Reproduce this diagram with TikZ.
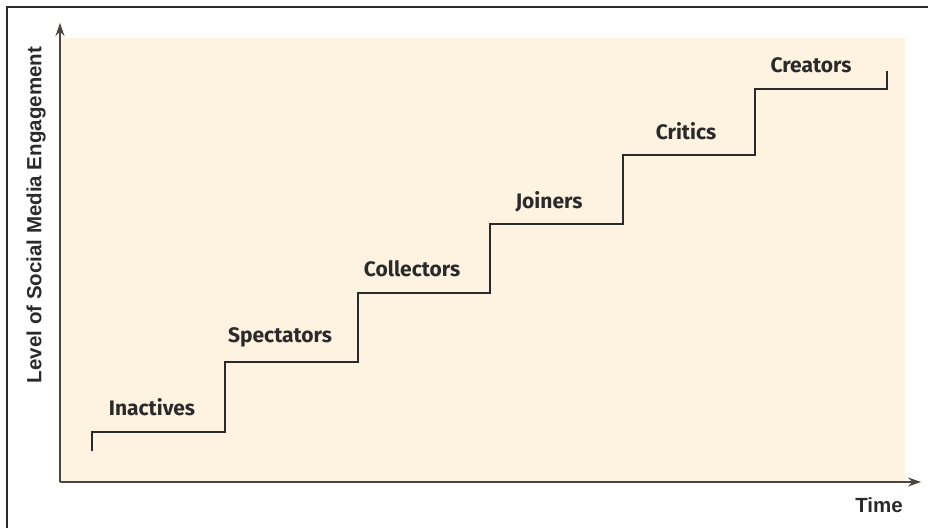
\documentclass[tikz,border=0pt]{standalone}
\usepackage{fontspec}
\setmainfont{Liberation Sans}
\newfontfamily\labfont{Fira Sans}
\usetikzlibrary{arrows.meta}
\definecolor{bgfill}{HTML}{FEF2E0}
\definecolor{axiscol}{HTML}{4A4540}
\definecolor{inkcol}{HTML}{2A2A2A}
\begin{document}
\begin{tikzpicture}[x=1pt,y=-1pt,
  frame/.style={draw=inkcol,line width=1.4pt},
  axis/.style={draw=axiscol,line width=1.3pt,-{Stealth[length=13pt,width=9pt]}},
  stair/.style={draw=inkcol,line width=2pt,line cap=butt,line join=miter},
  stagelabel/.style={anchor=base,inner sep=0pt,font=\labfont\bfseries\fontsize{21}{23}\selectfont,text=inkcol},
  axislabel/.style={inner sep=0pt,font=\bfseries\fontsize{20.5}{22}\selectfont,text=inkcol}]
\useasboundingbox (0,0) rectangle (928,528);
\fill[bgfill] (60,38) rectangle (905,482);
\draw[frame] (7,528) -- (7,7) -- (928,7);
\coordinate (o) at (60,482);
\coordinate (ytop) at (60,23);
\coordinate (xend) at (921,482);
\draw[axis] (o) -- (ytop);
\draw[axis] (o) -- (xend);
\coordinate (s0) at (92,451);
\coordinate (s1) at (92,432);
\coordinate (s2) at (225,432);
\coordinate (s3) at (225,362);
\coordinate (s4) at (358,362);
\coordinate (s5) at (358,293);
\coordinate (s6) at (490,293);
\coordinate (s7) at (490,224);
\coordinate (s8) at (623,224);
\coordinate (s9) at (623,155);
\coordinate (s10) at (755,155);
\coordinate (s11) at (755,89);
\coordinate (s12) at (887,89);
\coordinate (s13) at (887,71);
\draw[stair] (s0) -- (s1) -- (s2) -- (s3) -- (s4) -- (s5) -- (s6) -- (s7) -- (s8) -- (s9) -- (s10) -- (s11) -- (s12) -- (s13);
\node[stagelabel] (l1) at (152,415) {Inactives};
\node[stagelabel] (l2) at (280,342) {Spectators};
\node[stagelabel] (l3) at (412,276) {Collectors};
\node[stagelabel] (l4) at (549,208) {Joiners};
\node[stagelabel] (l5) at (686,139) {Critics};
\node[stagelabel] (l6) at (811,72) {Creators};
\node[axislabel,rotate=90] (ylab) at (36,215) {Level of Social Media Engagement};
\node[axislabel] (xlab) at (879,505) {Time};
\end{tikzpicture}
\end{document}
